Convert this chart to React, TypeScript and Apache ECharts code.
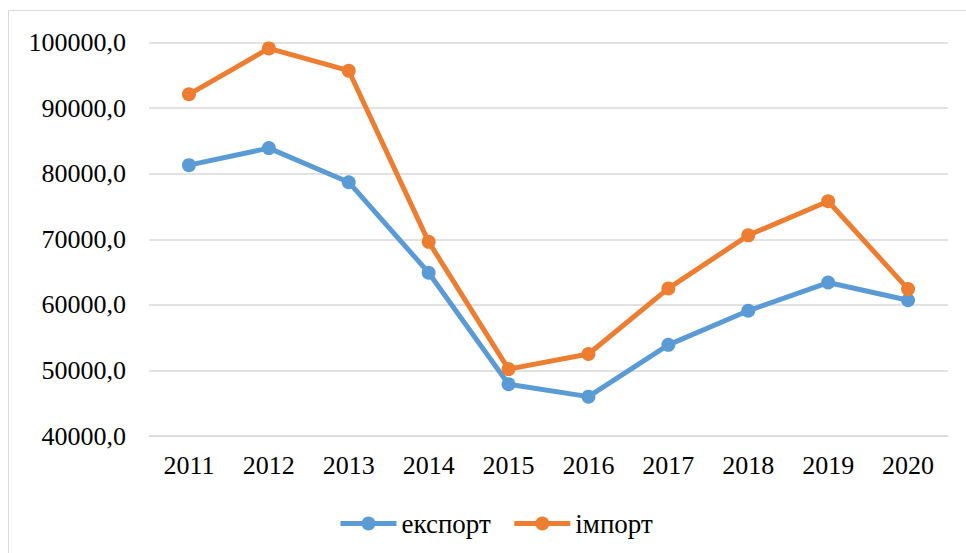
import React, { useEffect, useRef } from "react";
import * as echarts from "echarts";

const years = ["2011", "2012", "2013", "2014", "2015", "2016", "2017", "2018", "2019", "2020"];
const exportValues = [81300, 83900, 78700, 64900, 47900, 46000, 53900, 59100, 63400, 60700];
const importValues = [92100, 99100, 95700, 69600, 50200, 52500, 62500, 70600, 75800, 62400];
const seriesNames = ["експорт", "імпорт"];

const FONT = "Liberation Serif";

export default function App() {
  const ref = useRef<HTMLDivElement>(null);
  useEffect(() => {
    document.body.style.margin = "0";
    const chart = echarts.init(ref.current!, null, { renderer: "svg" });
    chart.setOption({
      animation: false,
      backgroundColor: "#ffffff",
      textStyle: { fontFamily: FONT },
      graphic: [
        {
          type: "rect",
          shape: { x: 8.5, y: 10.5, width: 1200, height: 1200 },
          style: { fill: "none", stroke: "#d9d9d9", lineWidth: 1 },
          silent: true,
        },
      ],
      grid: { left: 149, right: 18, top: 42.5, bottom: 117, containLabel: false },
      legend: {
        left: 338,
        top: 510,
        padding: 0,
        itemWidth: 56,
        itemHeight: 17.5,
        itemGap: 21,
        lineStyle: { width: 5 },
        textStyle: { fontFamily: FONT, fontSize: 27, color: "#000" },
        data: seriesNames,
      },
      xAxis: {
        type: "category",
        data: years,
        boundaryGap: true,
        axisLine: { show: true, lineStyle: { color: "#d9d9d9", width: 1 } },
        axisTick: { show: false },
        axisLabel: { fontFamily: FONT, fontSize: 26, color: "#000", margin: 16 },
      },
      yAxis: {
        type: "value",
        min: 40000,
        max: 100000,
        interval: 10000,
        axisLine: { show: false },
        axisTick: { show: false },
        splitLine: { lineStyle: { color: "#d9d9d9", width: 1.5 } },
        axisLabel: {
          fontFamily: FONT,
          fontSize: 26,
          color: "#000",
          margin: 23,
          formatter: (v: number) => v.toFixed(1).replace(".", ","),
        },
      },
      series: [
        {
          name: seriesNames[0],
          type: "line",
          data: exportValues,
          symbol: "circle",
          symbolSize: 14,
          itemStyle: { color: "#5b9bd5" },
          lineStyle: { color: "#5b9bd5", width: 5 },
        },
        {
          name: seriesNames[1],
          type: "line",
          data: importValues,
          symbol: "circle",
          symbolSize: 14,
          itemStyle: { color: "#ed7d31" },
          lineStyle: { color: "#ed7d31", width: 5 },
        },
      ],
    });
    return () => chart.dispose();
  }, []);
  return <div ref={ref} style={{ width: 966, height: 553 }} />;
}
